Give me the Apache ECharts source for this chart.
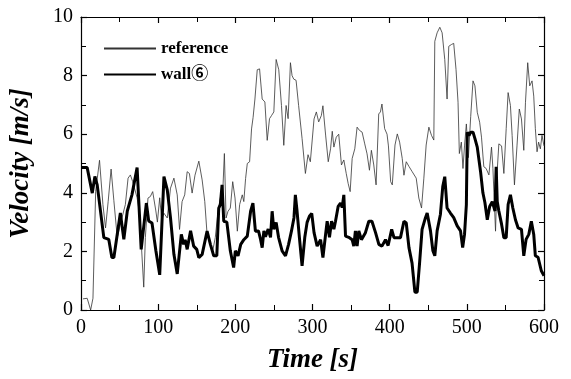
<!DOCTYPE html>
<html>
<head>
<meta charset="utf-8">
<script src="https://cdn.jsdelivr.net/npm/echarts@6/dist/echarts.min.js"></script>
<style>html,body{margin:0;padding:0;background:#fff}#c{width:571px;height:379px}</style>
</head>
<body>
<div id="c"></div>
<script>
const xTicks = [0, 100, 200, 300, 400, 500, 600];
const yTicks = [0, 2, 4, 6, 8, 10];

const refTime = [2.6,8,12.5,15.5,19,24,28.4,31.8,35.2,39,42.6,47,51,57.5,61,64,67,72.7,76,81.3,83.4,86.8,89.8,92.9,97,99,102,104.5,107.5,111.8,116,120.4,124.7,127.7,131,134.4,137.6,140.5,144,147.7,152.7,157,160.4,163.4,167.7,170.7,174,177.6,180.6,183,185.8,188,190.5,193.5,196.6,199.6,202.6,205.6,209,211,213.3,215.5,218.5,221,223,225.4,228.4,231.4,234.8,238.3,241.3,244.3,247,249.9,252.9,256.3,259.8,262.8,265.8,268.4,271.4,273.5,275.7,278.7,282,286.5,290.8,294.2,297.2,299,302,305,308,311.5,313.5,317,320.4,323.4,325.6,327.7,330.8,334,337.5,340.6,343.7,346.2,348.8,351.4,354.8,357.8,360.9,364.3,367.7,370.7,373.8,376.3,379.4,382.4,385.8,388,390,393.5,396.6,398.4,401.3,403.4,406.9,409.9,412.9,416.3,418.5,421.5,425,429.2,434.4,437.8,441.3,444.3,447.3,450.8,454.2,457.2,458.5,461.5,465,468,471.4,474.4,476.6,480,483,486,488.6,490.3,492.9,495,497,499.4,502,505,508,510.5,513.5,516.6,519,522,525,528.6,532,533.8,537.2,539.4,541.5,545,548,551,553.5,556.5,558.7,561.7,565,568,570.8,573.8,576,578.9,581.5,584.5,586.7,588.8,591,593,595.3,597.4,600];
const refVel = [0.38,0.4,0.0,0.4,4.05,5.11,3.6,2.8,3.7,4.81,3.73,2.47,2.93,3.6,4.5,4.61,4.38,3.83,3.27,0.78,2.47,3.82,3.87,4.04,3.38,3.0,3.83,3.1,3.3,3.14,4.16,4.5,3.93,2.75,3.7,3.93,4.72,4.66,3.99,4.6,5.08,4.44,3.7,2.58,2.24,2.02,2.47,3.37,3.83,3.6,5.34,3.14,3.37,3.48,4.38,3.82,2.69,3.6,3.93,3.7,4.49,5.0,5.06,6.18,6.57,7.2,8.2,8.23,7.2,7.1,5.79,6.53,6.64,6.76,8.55,8.2,6.98,5.62,6.98,6.53,8.44,8.0,7.88,7.84,6.98,5.85,4.66,5.3,5.06,5.12,6.52,6.76,6.42,6.64,6.97,5.97,5.06,5.5,6.1,5.56,5.9,6.0,4.95,5.12,4.66,4.32,4.04,5.17,5.5,6.24,6.13,6.07,5.67,5.33,4.77,5.45,4.95,4.27,6.69,6.76,7.03,6.19,6.0,5.6,4.38,4.27,5.63,6.01,5.73,5.17,4.6,5.06,4.9,4.72,4.5,3.82,3.48,4.5,5.63,6.24,5.96,5.8,9.17,9.46,9.65,9.46,8.55,7.2,9.0,9.06,9.1,8.21,7.09,5.34,5.73,4.83,5.6,6.35,5.2,6.6,7.82,7.65,6.75,6.41,5.9,4.89,4.83,4.61,5.56,4.83,2.69,4.77,5.67,5.6,4.66,6.19,7.42,6.98,5.96,4.27,5.6,6.86,6.52,5.45,7.09,8.44,7.65,7.82,7.3,6.19,5.4,5.73,5.5,5.96,5.6];

const wallTime = [0,8,14.6,18,21,29.6,36,40,42.6,51,55.5,60,66,72.7,78,84.7,87.7,92,97,102,107.5,111.8,116,120.4,124.7,130,133,135,137.6,142,146,150,152.7,157,163.4,167.7,172,176,178.5,180.6,182.8,185,189,193.5,197.8,200,203.5,207,211,215.5,219.8,222.8,226,230,232.7,234.8,237,239,242.6,245.6,247.7,249.8,252.9,256,260.6,265,269,272.7,276,277.8,280,283,286.5,290,293,296,299,302,306,310.5,313.5,317,319,322,324.7,327.7,329.8,333.3,336.3,338.5,340.6,342.8,347,351.4,353.5,355.6,357.8,360,363.4,368.6,373,377,381.7,386,390,394.6,398,402.6,405.6,410,414,418.5,421.5,425,429,432.7,435.7,438.7,442,446.4,448.6,452.9,456,458.5,461.5,465.8,468.8,471.4,474.4,478.7,483,487.5,491.8,494.6,497,499.4,500.6,502.8,505,508,510.5,513.5,517.8,520.8,523.4,526.5,529.6,533,536.5,538,539.4,541.5,545,548,551,553.5,556.5,559.6,563,566.5,570.8,573.8,576.8,580.3,583.6,586.7,588.8,592.3,596.5,600];
const wallVel = [4.86,4.86,3.99,4.56,4.27,2.47,2.41,1.79,1.79,3.31,2.41,3.38,3.93,4.86,2.07,3.65,3.04,2.97,2.03,1.2,4.55,4.1,3.14,1.9,1.23,2.58,2.24,2.4,2.07,2.7,2.18,2.07,1.79,1.9,2.69,2.24,1.85,1.85,3.48,3.6,4.27,3.03,3.0,2.02,1.45,2.02,1.85,2.24,2.4,2.52,3.37,3.65,2.69,2.7,2.41,2.13,2.7,2.5,2.76,2.48,3.37,2.76,2.99,2.48,2.02,1.85,2.24,2.69,3.15,3.93,3.37,2.48,1.51,2.48,2.99,3.2,3.3,2.64,2.18,2.4,1.79,2.59,3.03,2.48,3.03,2.76,3.03,3.54,3.65,3.5,3.93,2.52,2.48,2.4,2.18,2.7,2.18,2.7,2.4,2.64,3.03,3.03,2.64,2.24,2.18,2.4,2.2,2.75,2.47,2.47,2.47,3.03,2.97,2.13,1.6,0.61,0.61,1.58,2.75,3.15,3.31,2.7,2.02,1.85,2.7,3.27,4.21,4.55,3.48,3.31,3.15,2.87,2.7,2.13,2.58,3.6,6.07,5.95,6.07,6.07,5.85,5.56,4.72,4.0,3.67,3.08,3.53,3.7,3.38,4.89,3.7,3.38,2.93,2.47,2.47,3.6,3.93,3.48,3.08,2.8,2.75,1.85,2.41,2.58,3.03,2.58,1.85,1.8,1.34,1.17];

const seriesNames = ['reference', 'wall⑥'];
const xTitle = 'Time [s]';
const yTitle = 'Velocity [m/s]';

const zip = (a, b) => a.map((t, i) => [t, b[i]]);
const serif = '"Liberation Serif", "DejaVu Serif", serif';
const legendFont = '"Liberation Serif", "Noto Sans CJK JP", "DejaVu Serif", serif';

const chart = echarts.init(document.getElementById('c'), null, {renderer: 'canvas'});

const axisCommon = {
  type: 'value',
  axisLine: {show: true, onZero: false, lineStyle: {color: '#000', width: 1.2}},
  axisTick: {show: true, inside: true, length: 6, lineStyle: {color: '#000', width: 1.2}},
  minorTick: {show: true, splitNumber: 2, length: 5, lineStyle: {color: '#000', width: 1}},
  splitLine: {show: false},
};

chart.setOption({
  animation: false,
  backgroundColor: '#fff',
  grid: {left: 80, right: 27, top: 17, bottom: 66, containLabel: false},
  legend: {
    orient: 'vertical', left: 98, top: 35, itemWidth: 52, itemHeight: 14, itemGap: 9,
    data: seriesNames,
    itemStyle: {opacity: 0, borderWidth: 0},
    textStyle: {fontFamily: legendFont, fontSize: 17, fontWeight: 'bold', color: '#000'},
  },
  xAxis: [
    Object.assign({}, axisCommon, {
      min: xTicks[0], max: xTicks[xTicks.length - 1], interval: 100, position: 'bottom',
      axisLabel: {color: '#000', fontFamily: serif, fontSize: 20, margin: 8},
      name: xTitle, nameLocation: 'middle', nameGap: 37,
      nameTextStyle: {fontFamily: serif, fontSize: 27, fontStyle: 'italic', fontWeight: 'bold', color: '#000'},
    }),
    Object.assign({}, axisCommon, {
      min: xTicks[0], max: xTicks[xTicks.length - 1], interval: 100, position: 'top',
      axisLabel: {show: false},
    }),
  ],
  yAxis: [
    Object.assign({}, axisCommon, {
      min: yTicks[0], max: yTicks[yTicks.length - 1], interval: 2, position: 'left',
      axisLabel: {color: '#000', fontFamily: serif, fontSize: 20, margin: 8},
      name: yTitle, nameLocation: 'middle', nameGap: 46,
      nameTextStyle: {fontFamily: serif, fontSize: 27, fontStyle: 'italic', fontWeight: 'bold', color: '#000'},
    }),
    Object.assign({}, axisCommon, {
      min: yTicks[0], max: yTicks[yTicks.length - 1], interval: 2, position: 'right',
      axisLabel: {show: false},
    }),
  ],
  series: [
    {
      name: seriesNames[0], type: 'line', data: zip(refTime, refVel),
      showSymbol: false, symbol: 'none',
      lineStyle: {color: '#333', width: 0.8},
      itemStyle: {color: '#333'},
    },
    {
      name: seriesNames[1], type: 'line', data: zip(wallTime, wallVel),
      showSymbol: false, symbol: 'none',
      lineStyle: {color: '#000', width: 3},
      itemStyle: {color: '#000'},
    },
  ],
});
</script>
</body>
</html>
